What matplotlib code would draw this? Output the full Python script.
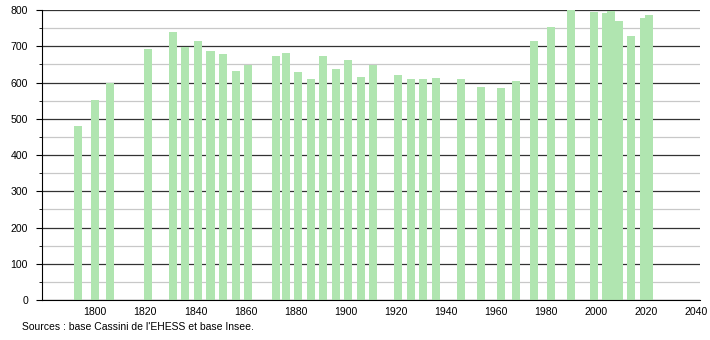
import matplotlib.pyplot as plt
from matplotlib.ticker import MultipleLocator

plt.rcParams['font.family'] = ['Liberation Sans', 'DejaVu Sans']

# census years and population
years = [1793, 1800, 1806, 1821, 1831, 1836, 1841, 1846, 1851, 1856, 1861,
         1872, 1876, 1881, 1886, 1891, 1896, 1901, 1906, 1911,
         1921, 1926, 1931, 1936, 1946, 1954, 1962, 1968, 1975, 1982,
         1990, 1999, 2004, 2006, 2009, 2014, 2019, 2021]
population = [480, 551, 600, 692, 738, 699, 714, 688, 678, 632, 649,
              672, 681, 630, 609, 672, 637, 661, 615, 649,
              620, 609, 609, 612, 611, 588, 584, 603, 715, 753,
              800, 794, 791, 797, 770, 727, 778, 786]

x_ticks = [1800, 1820, 1840, 1860, 1880, 1900, 1920, 1940, 1960, 1980, 2000, 2020, 2040]
source_text = "Sources : base Cassini de l'EHESS et base Insee."

fig = plt.figure(figsize=(7.1, 3.4), dpi=100)
ax = fig.add_axes([0.059, 0.1176, 0.927, 0.853])

# grid: dark lines every 100, light ones in between
for v in range(0, 801, 100):
    ax.axhline(v, color='#333333', linewidth=0.9, zorder=1)
for v in range(50, 800, 100):
    ax.axhline(v, color='#c8c8c8', linewidth=0.9, zorder=1)

ax.bar(years, population, width=3.2, color='#b0e5b0', zorder=2)

ax.set_xlim(1778.7, 2041.4)
ax.set_ylim(0, 800)
ax.set_xticks(x_ticks)
ax.yaxis.set_major_locator(MultipleLocator(100))
ax.yaxis.set_minor_locator(MultipleLocator(50))
ax.tick_params(axis='x', length=0, labelsize=7.6, pad=5)
ax.tick_params(axis='y', which='major', length=4, labelsize=7.6, pad=6)
ax.tick_params(axis='y', which='minor', length=2)

for s in ['top', 'right']:
    ax.spines[s].set_visible(False)
ax.spines['left'].set_color('black')
ax.spines['bottom'].set_color('black')
ax.spines['bottom'].set_zorder(3)

fig.text(0.031, 0.038, source_text, fontsize=7.5, va='center', ha='left')

fig.savefig('out.png', dpi=100)
